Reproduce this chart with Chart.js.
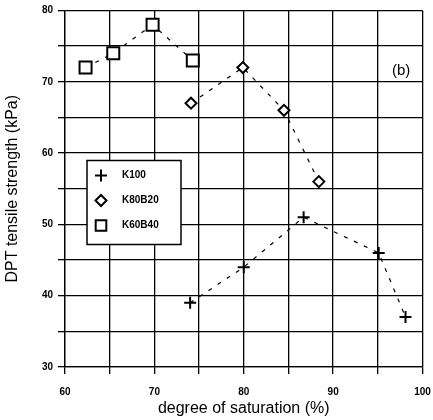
<!DOCTYPE html>
<html>
<head>
<meta charset="utf-8">
<script src="https://cdn.jsdelivr.net/npm/chart.js@4.4.0/dist/chart.umd.min.js"></script>
<style>
  body { margin: 0; background: #fff; }
  #wrap { width: 433px; height: 420px; }
</style>
</head>
<body>
<div id="wrap"><canvas id="c" width="433" height="420"></canvas></div>
<script>
// saturation (%) and strength (kPa) per mix
var k100X = [74, 80, 86.7, 95.1, 98.1];
var k100Y = [39, 44, 51, 46, 37];
var k80X = [74.1, 79.9, 84.5, 88.4];
var k80Y = [67, 72, 66, 56];
var k60X = [62.3, 65.4, 69.8, 74.3];
var k60Y = [72, 74, 78, 73];
var seriesNames = ["K100", "K80B20", "K60B40"];

function toPoints(xs, ys) {
    var pts = [];
    for (var i = 0; i < xs.length; i++) {
        pts.push({ x: xs[i], y: ys[i] });
    }
    return pts;
}

var font = "'Liberation Sans', Arial, sans-serif";

function makeSet(label, xs, ys, style, radius) {
    return {
        label: label,
        data: toPoints(xs, ys),
        showLine: true,
        borderColor: "#000",
        borderWidth: 1.2,
        borderDash: [4, 7],
        pointStyle: style,
        pointRadius: radius,
        pointBorderWidth: 2,
        pointBorderColor: "#000",
        pointBackgroundColor: "#fff"
    };
}

// legend box drawn inside the plot area
var boxLegend = {
    id: "boxLegend",
    afterDraw: function (chart) {
        var ctx = chart.ctx;
        var a = chart.chartArea;
        var x0 = a.left + 22, y0 = a.top + 150, w = 94, h = 84;
        ctx.save();
        ctx.fillStyle = "#fff";
        ctx.fillRect(x0, y0, w, h);
        ctx.strokeStyle = "#000";
        ctx.lineWidth = 1.5;
        ctx.strokeRect(x0, y0, w, h);
        ctx.font = "bold 10px " + font;
        ctx.textBaseline = "middle";
        for (var i = 0; i < chart.data.datasets.length; i++) {
            var ds = chart.data.datasets[i];
            var cy = y0 + 15 + i * 25;
            ctx.lineWidth = 2;
            ctx.strokeStyle = "#000";
            ctx.fillStyle = "#fff";
            Chart.helpers.drawPoint(ctx, {
                pointStyle: ds.pointStyle,
                radius: ds.pointStyle === "rect" ? 7.5 : ds.pointRadius,
                borderWidth: 2
            }, x0 + 14, cy);
            ctx.fillStyle = "#000";
            ctx.fillText(ds.label, x0 + 35, cy);
        }
        ctx.font = "15px " + font;
        ctx.textAlign = "center";
        ctx.fillText("(b)", chart.scales.x.getPixelForValue(97.6), chart.scales.y.getPixelForValue(71.6));
        ctx.restore();
    }
};

new Chart(document.getElementById("c"), {
    type: "scatter",
    data: {
        datasets: [
            makeSet(seriesNames[0], k100X, k100Y, "cross", 6),
            makeSet(seriesNames[1], k80X, k80Y, "rectRot", 5.5),
            makeSet(seriesNames[2], k60X, k60Y, "rect", 8.5)
        ]
    },
    options: {
        responsive: false,
        animation: false,
        layout: { padding: { top: 10, right: 10, left: 0, bottom: 0 } },
        plugins: { legend: { display: false }, tooltip: { enabled: false } },
        scales: {
            x: {
                min: 60, max: 100,
                afterFit: function (s) {
                    s.height = 53;
                    s.paddingLeft = 0;
                    s.paddingRight = 0;
                },
                ticks: {
                    stepSize: 5,
                    autoSkip: false,
                    maxRotation: 0,
                    padding: 12,
                    color: "#000",
                    font: { family: font, size: 10, weight: "bold" },
                    callback: function (v) { return v % 10 === 0 ? v : ""; }
                },
                grid: { color: "#000", lineWidth: 1.3, tickLength: 7 },
                border: { color: "#000", width: 1.3 },
                title: {
                    display: true,
                    text: "degree of saturation (%)",
                    color: "#000",
                    font: { family: font, size: 16 },
                    padding: { top: 0, bottom: 2 }
                }
            },
            y: {
                min: 30, max: 80,
                afterFit: function (s) {
                    s.width = 65;
                    s.paddingTop = 0;
                    s.paddingBottom = 0;
                },
                ticks: {
                    stepSize: 5,
                    autoSkip: false,
                    padding: 5,
                    color: "#000",
                    font: { family: font, size: 10, weight: "bold" },
                    callback: function (v) { return v % 10 === 0 ? v : ""; }
                },
                grid: { color: "#000", lineWidth: 1.3, tickLength: 7 },
                border: { color: "#000", width: 1.3 },
                title: {
                    display: true,
                    text: "DPT tensile strength (kPa)",
                    color: "#000",
                    font: { family: font, size: 16 },
                    padding: { top: 3, bottom: 0 }
                }
            }
        }
    },
    plugins: [boxLegend]
});
</script>
</body>
</html>
